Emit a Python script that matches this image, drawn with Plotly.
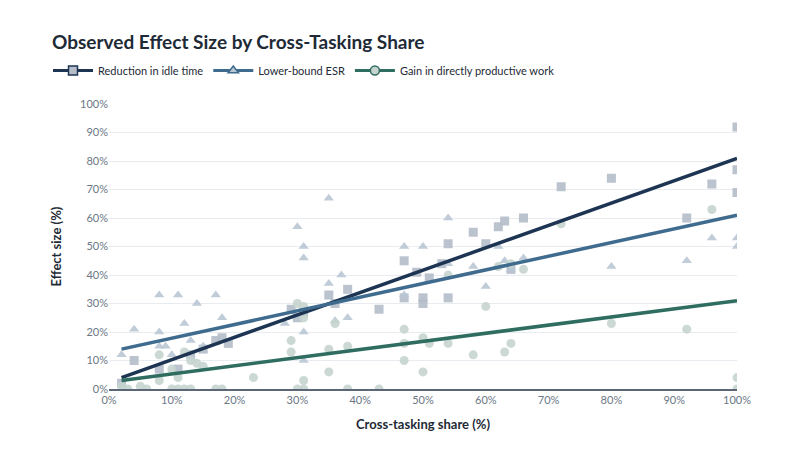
import plotly.graph_objects as go

# Scatter data (x = cross-tasking share %, y = effect size %)
sq_x = [2,4,8,11,13,15,17,18,19,29,30,31,35,36,38,43,47,47,49,50,50,51,53,54,54,58,60,62,63,64,66,72,80,92,96,100,100,100]
sq_y = [2,10,7,7,12,14,17,18,16,28,25,27,33,30,35,28,45,32,41,32,30,39,44,32,51,55,51,57,59,42,60,71,74,60,72,92,77,69]

tri_x = [2,4,8,8,8,9,10,11,12,13,14,15,17,18,28,30,31,31,31,31,35,35,36,37,38,47,47,50,54,54,58,60,62,63,64,66,80,92,96,100,100]
tri_y = [12,21,33,20,15,15,12,33,23,17,30,15,33,25,23,57,50,46,20,10,67,37,24,40,25,50,33,50,60,44,43,36,50,45,42,46,43,45,53,53,50]

cir_x = [2,3,5,6,10,11,12,13,17,18,8,8,10,11,12,13,14,15,23,29,29,30,31,31,31,31,30,35,35,36,38,38,43,47,47,47,50,50,51,54,58,60,63,64,66,72,80,92,96,100,100,54,62,64]
cir_y = [1,0,1,0,0,0,0,0,0,0,3,12,7,4,13,10,9,8,4,13,17,30,29,25,3,0,0,6,14,23,15,0,0,10,21,16,18,6,16,16,12,29,13,16,42,58,23,21,63,4,0,40,43,44]

# Trend line endpoints
line_x = [2, 100]
red_line = [4, 81]
low_line = [14, 61]
gain_line = [3, 31]

series = ["Reduction in idle time", "Lower-bound ESR", "Gain in directly productive work"]
line_cols = ["#1d3553", "#3f6b8f", "#2f6d60"]
pt_cols = ["#b4bdc9", "#b9c7d4", "#c5d4cf"]
symbols = ["square", "triangle-up", "circle"]

fig = go.Figure()
for xs, ys, sym, c in [(sq_x, sq_y, "square", pt_cols[0]), (tri_x, tri_y, "triangle-up", pt_cols[1]), (cir_x, cir_y, "circle", pt_cols[2])]:
    fig.add_trace(go.Scatter(x=xs, y=ys, mode="markers", showlegend=False,
                             marker=dict(symbol=sym, size=9, color=c, opacity=0.9)))
for ys, c in [(red_line, line_cols[0]), (low_line, line_cols[1]), (gain_line, line_cols[2])]:
    fig.add_trace(go.Scatter(x=line_x, y=ys, mode="lines", showlegend=False,
                             line=dict(color=c, width=3.5)))
for name, sym, lc, pc in zip(series, symbols, line_cols, pt_cols):
    fig.add_trace(go.Scatter(x=[None], y=[None], mode="lines+markers", name=name,
                             line=dict(color=lc, width=3),
                             marker=dict(symbol=sym, size=9, color=pc, line=dict(color=lc, width=1.5))))

fig.update_layout(
    width=800, height=463, plot_bgcolor="white", paper_bgcolor="white",
    margin=dict(l=101, r=71, t=80, b=82),
    font=dict(family="Lato, Open Sans, sans-serif", color="#3a4654", size=12),
    title=dict(text="<b>Observed Effect Size by Cross-Tasking Share</b>", x=0.055, xanchor="left",
               y=0.925, yanchor="middle", xref="container", yref="container",
               font=dict(size=19, color="#1e2a36")),
    legend=dict(orientation="h", x=0.05, xanchor="left", y=0.865, yanchor="middle",
                xref="container", yref="container",
                font=dict(size=11, color="#1e2a36"), itemwidth=40),
    xaxis=dict(range=[0, 100], tickvals=list(range(0, 101, 10)),
               ticktext=[f"{v}%" for v in range(0, 101, 10)], showgrid=False, zeroline=False,
               showline=True, linecolor="#5b6776", linewidth=1.5,
               title=dict(text="<b>Cross-tasking share (%)</b>", font=dict(size=13, color="#1e2a36")),
               tickfont=dict(color="#6b7785", size=11)),
    yaxis=dict(range=[0, 100], tickvals=list(range(0, 101, 10)),
               ticktext=[f"{v}%" for v in range(0, 101, 10)], gridcolor="#e8ecf1", zeroline=False,
               title=dict(text="<b>Effect size (%)</b>", font=dict(size=13, color="#1e2a36")),
               tickfont=dict(color="#6b7785", size=11)),
)
fig.write_html("out.html")
